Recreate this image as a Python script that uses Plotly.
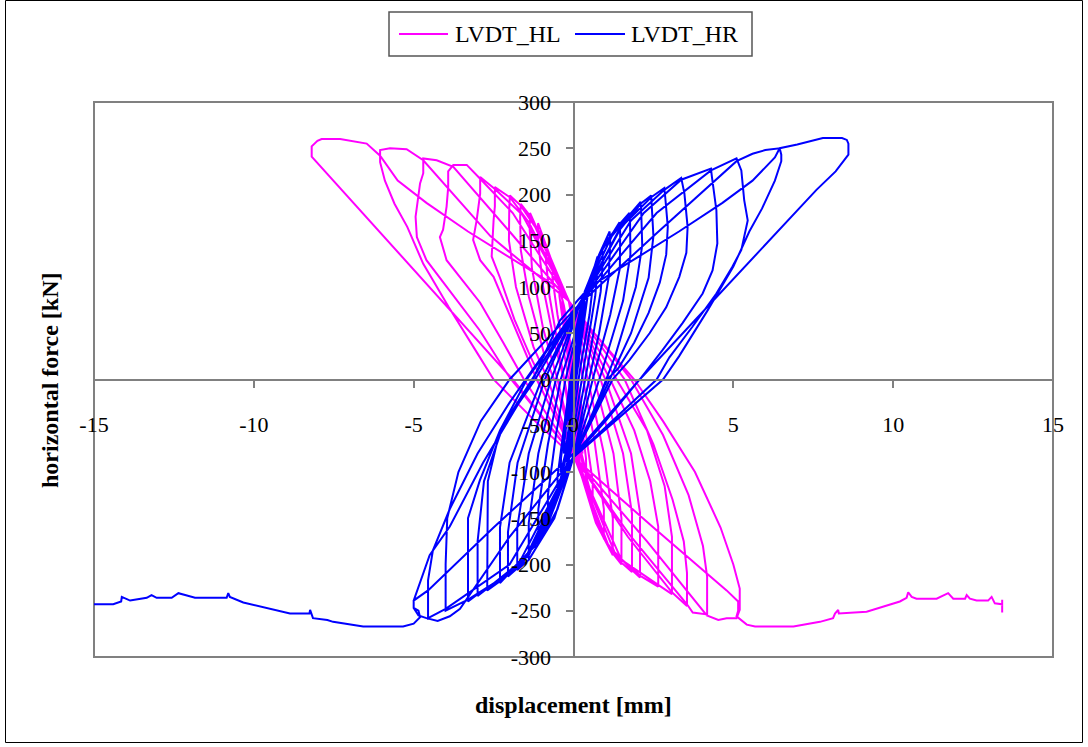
import plotly.graph_objects as go

# LVDT_HR (right transducer): displacement [mm] and horizontal force [kN], in test order
hr_disp = [
    0, 0.1, 0.2, 0.19, 0.05, -0.1, -0.17, -0.16, -0.02,
    0.15, 0.3, 0.35, 0.34, 0.15, -0.05, -0.2, -0.3, -0.29, -0.1,
    0.1, 0.3, 0.45, 0.44, 0.2, -0.05, -0.25, -0.4, -0.39, -0.15,
    0.1, 0.3, 0.45, 0.6, 0.61, 0.5, 0.2, 0.0, -0.2, -0.4, -0.5, -0.5, -0.3, -0.1,
    0.15, 0.35, 0.6, 0.75, 0.76, 0.68, 0.4, 0.05, -0.2, -0.5, -0.8, -0.8, -0.55, -0.25,
    0.1, 0.35, 0.7, 0.9, 0.92, 0.85, 0.55, 0.1, -0.3, -0.8, -1.1, -1.1, -0.8, -0.4,
    0.05, 0.3, 0.8, 1.13, 1.15, 1.1, 0.8, 0.3, 0.0, -0.5, -1.1, -1.4, -1.4, -1.1, -0.55,
    0.2, 0.9, 1.44, 1.46, 1.45, 1.15, 0.6, 0.0, -0.6, -1.4, -1.76, -1.76, -1.4, -0.7,
    0.18, 1.0, 1.44, 1.75, 1.77, 1.78, 1.55, 0.9, 0.02, -0.9, -1.76, -2.05, -2.05, -1.75, -0.9,
    0.22, 1.2, 1.75, 2.1, 2.12, 2.15, 1.95, 1.3, 0.8, 0.0, -1.1, -2.05, -2.3, -2.3, -2.0, -1.0,
    0.2, 1.4, 2.1, 2.43, 2.45, 2.5, 2.35, 1.8, 1.0, -0.02, -1.2, -2.3, -2.7, -2.7, -2.68, -2.3, -1.2,
    0.2, 1.5, 2.43, 2.84, 2.87, 2.95, 2.9, 2.7, 2.35, 1.9, 1.4, 1.05, 0.0, -1.4, -2.7, -3.0, -3.0, -2.8, -2.2, -1.3,
    0.2, 1.8, 2.84, 3.37, 3.47, 3.57, 3.53, 3.31, 2.9, 2.38, 1.75, 1.22, 0.0, -1.6, -3.0, -3.3, -3.3, -2.93, -2.3, -1.46,
    0.2, 2.2, 3.37, 4.3, 4.33, 4.47, 4.5, 4.35, 4.04, 3.41, 2.79, 2.07, 1.0, 0.0, -1.8, -3.3, -4.0, -4.0, -3.95, -3.6, -2.9, -2.0,
    0.2, 2.6, 4.3, 5.1, 5.25, 5.34, 5.45, 5.25, 4.97, 4.47, 3.72, 3.0, 2.6, 1.2, 0.0, -2.0, -4.0, -4.55, -4.55, -4.4, -3.87, -3.0, -2.0, -1.5,
    0.2, 2.6, 5.1, 5.6, 6.0, 6.45, 6.5, 6.5, 6.3, 5.9, 5.5, 5.0, 4.2, 3.3, 2.8, 1.3, 0.0, -2.0, -3.55, -3.87, -4.25, -4.6, -4.85, -5.0, -5.0, -4.5, -3.87, -2.83, -1.27,
    -0.42, 0.5, 2.0, 3.3, 4.66, 5.6, 6.3, 6.45, 7.0, 7.8, 8.4, 8.55, 8.6, 8.6, 8.2, 7.6, 2.07, 0.3, -0.3, -2.5, -4.55, -5.0, -5.0, -4.85, -4.8, -5.0,
    -5.33, -6.58, -7.52, -7.7, -8.15, -8.24, -8.26, -8.87, -10.33, -10.75, -10.8, -10.85, -11.06, -11.84, -12.15, -12.36, -12.57, -13.04,
    -13.2, -13.35, -13.87, -14.13, -14.15, -14.4, -15.0,
]
hr_force = [
    0, 30, 55, 45, 5, -30, -45, -35, 0,
    40, 75, 85, 75, 25, -25, -65, -80, -68, -15,
    35, 80, 100, 90, 30, -35, -80, -100, -85, -20,
    40, 80, 100, 111, 103, 70, 10, -40, -80, -105, -120, -105, -50, 0,
    50, 90, 115, 133, 122, 90, 30, -45, -90, -125, -150, -125, -60, 0,
    50, 95, 125, 140, 128, 95, 35, -50, -110, -155, -175, -140, -70, 0,
    50, 90, 135, 160, 148, 110, 50, -30, -84, -140, -178, -195, -155, -80, 0,
    82, 140, 170, 158, 120, 70, 0, -84, -150, -195, -206, -160, -80, 0,
    80, 148, 168, 180, 168, 135, 85, 10, -82, -165, -204, -213, -165, -90, 0,
    84, 155, 178, 192, 180, 145, 100, 25, -20, -86, -175, -211, -220, -160, -90, 0,
    82, 160, 190, 199, 188, 155, 110, 50, -10, -84, -180, -218, -228, -180, -110, -55, 0,
    82, 165, 197, 207, 197, 165, 135, 105, 72, 40, 12, 0, -84, -190, -226, -234, -175, -110, -50, 0,
    82, 172, 205, 218, 201, 165, 137, 111, 78, 50, 21, 0, -84, -200, -232, -240, -150, -109, -55, 0,
    82, 180, 216, 228, 219, 183, 147, 118, 93, 61, 32, 0, -45, -84, -205, -238, -250, -200, -150, -100, -45, 0,
    82, 180, 226, 239, 226, 194, 172, 140, 122, 93, 57, 24, 0, -45, -84, -200, -248, -258, -217, -185, -140, -80, -25, 0,
    82, 158, 236, 244, 248, 250, 243, 236, 215, 185, 160, 122, 75, 25, 0, -45, -84, -170, -248, -256, -261, -258, -255, -247, -239, -190, -159, -90, 0,
    64, 100, 132, 160, 191, 215, 240, 250, 254, 261, 261, 259, 255, 243, 225, 205, 0, -70, -90, -160, -228, -239, -247, -250, -257, -264,
    -267, -267, -262, -260, -258, -249, -253, -253, -241, -235, -231, -236, -236, -236, -233, -231, -236, -236,
    -233, -236, -239, -235, -240, -243, -243,
]

# LVDT_HL (left transducer): displacement [mm] and horizontal force [kN], in test order
hl_disp = [
    0, -0.1, -0.2, -0.19, -0.05, 0.08, 0.15, 0.14, 0.02,
    -0.15, -0.3, -0.35, -0.34, -0.15, 0.05, 0.2, 0.28, 0.27, 0.1,
    -0.1, -0.3, -0.45, -0.44, -0.2, 0.05, 0.25, 0.4, 0.39, 0.15,
    -0.1, -0.3, -0.45, -0.65, -0.66, -0.5, -0.2, 0.0, 0.2, 0.45, 0.6, 0.6, 0.35, 0.1,
    -0.15, -0.4, -0.65, -0.85, -0.86, -0.75, -0.45, -0.05, 0.2, 0.55, 0.95, 0.95, 0.65, 0.3,
    -0.15, -0.7, -1.11, -1.11, -0.95, -0.6, -0.3, 0.1, 0.7, 1.23, 1.23, 0.95, 0.45,
    -0.15, -0.9, -1.36, -1.37, -1.3, -0.95, -0.5, 0.1, 0.85, 1.23, 1.5, 1.5, 1.25, 0.65,
    -0.13, -1.0, -1.36, -1.65, -1.67, -1.65, -1.4, -0.9, -0.6, 0.12, 0.95, 1.5, 1.83, 1.83, 1.55, 0.85,
    -0.17, -1.2, -1.65, -1.99, -2.01, -2.02, -1.8, -1.25, -0.8, 0.08, 1.1, 1.83, 2.08, 2.08, 1.8, 1.0,
    -0.15, -1.4, -1.99, -2.46, -2.46, -2.5, -2.56, -2.3, -1.85, -1.35, -1.0, 0.1, 1.3, 2.08, 2.65, 2.65, 2.4, 1.9, 1.15,
    -0.15, -1.6, -2.46, -2.92, -2.92, -3.03, -3.14, -2.92, -2.5, -2.0, -1.5, -1.15, 0.1, 1.5, 2.65, 3.08, 3.08, 2.85, 2.3, 1.35,
    -0.15, -1.9, -2.92, -3.34, -3.76, -3.92, -3.92, -3.97, -4.08, -4.18, -3.97, -3.55, -2.92, -2.2, -1.55, 0.1, 1.7, 3.08, 3.55, 3.55, 3.45, 3.1, 2.5, 1.6,
    -0.15, -2.0, -3.76, -4.28, -4.7, -4.7, -4.8, -4.94, -4.9, -4.6, -3.97, -2.93, -2.09, -1.95, 0.1, 1.8, 3.55, 3.73, 4.18, 4.18, 4.05, 3.6, 2.8, 1.8,
    -0.15, -2.6, -4.7, -5.22, -5.74, -6.05, -6.05, -5.9, -5.6, -5.2, -4.7, -3.9, -3.0, -2.5, -1.2, 0.1, 2.3, 4.17, 4.53, 4.79, 5.1, 5.2, 5.2, 5.0, 4.6, 3.8, 2.8, 1.9,
    0.4, -0.5, -2.0, -3.3, -4.6, -5.5, -6.05, -6.47, -7.3, -7.88, -8.01, -8.09, -8.19, -8.19, -1.9, 0.1, 2.5, 4.79, 5.15, 5.15, 5.1,
    5.42, 5.68, 6.88, 7.71, 8.12, 8.18, 8.28, 8.3, 9.17, 10.21, 10.42, 10.47, 10.58, 10.73, 11.36, 11.5, 11.72, 11.88,
    12.25, 12.3, 12.4, 12.61, 12.97, 13.08, 13.18, 13.41, 13.41, 13.41,
]
hl_force = [
    0, 30, 55, 45, 5, -30, -45, -35, 0,
    40, 75, 85, 75, 25, -25, -65, -80, -68, -15,
    35, 80, 100, 90, 30, -35, -80, -100, -85, -20,
    40, 80, 100, 120, 110, 70, 10, -40, -80, -110, -130, -110, -50, 0,
    50, 95, 120, 140, 128, 90, 30, -45, -90, -135, -170, -140, -65, 0,
    85, 130, 169, 150, 100, 40, 0, -87, -155, -190, -150, -80, 0,
    85, 145, 180, 162, 120, 55, 0, -87, -165, -188, -200, -150, -80, 0,
    83, 155, 177, 190, 175, 140, 90, 25, 0, -85, -172, -198, -208, -145, -80, 0,
    87, 165, 188, 199, 185, 150, 100, 35, 0, -89, -180, -206, -214, -144, -80, 0,
    85, 170, 197, 208, 187, 172, 133, 110, 65, 25, 0, -87, -188, -212, -224, -159, -110, -55, 0,
    85, 178, 206, 219, 201, 172, 151, 129, 111, 70, 30, 0, -87, -195, -222, -232, -170, -115, -55, 0,
    85, 180, 217, 232, 232, 225, 208, 187, 162, 154, 129, 111, 83, 40, 0, -87, -170, -230, -245, -209, -175, -130, -70, 0,
    85, 160, 230, 237, 239, 223, 212, 176, 154, 129, 100, 53, 7, 0, -87, -170, -243, -252, -254, -213, -180, -125, -60, 0,
    85, 155, 237, 249, 250, 248, 235, 215, 190, 165, 125, 78, 28, 0, -45, -87, -175, -255, -260, -258, -258, -249, -226, -200, -160, -100, -45, 0,
    60, 100, 132, 160, 191, 215, 242, 255, 260, 260, 258, 255, 252, 241, 0, -87, -160, -228, -240, -250, -256,
    -265, -267, -267, -262, -258, -253, -249, -253, -251, -240, -236, -230, -235, -237, -237, -235, -231, -237,
    -237, -233, -237, -239, -239, -235, -242, -243, -238, -252,
]

assert len(hr_disp) == len(hr_force)
assert len(hl_disp) == len(hl_force)

x_tick_vals = [-15, -10, -5, 0, 5, 10, 15]
x_tick_text = ["-15", "-10", "-5", "0", "5", "10", "15"]
y_tick_vals = [300, 250, 200, 150, 100, 50, 0, -50, -100, -150, -200, -250, -300]
y_tick_text = ["300", "250", "200", "150", "100", "50", "0", "-50", "-100", "-150", "-200", "-250", "-300"]

series_names = ["LVDT_HL", "LVDT_HR"]
series_colors = ["#FF00FF", "#0000FF"]

FONT = "Liberation Serif"
W, H = 1088, 747
ML, MR, MT, MB = 94, 35, 102, 90
PW, PH = W - ML - MR, H - MT - MB


def px_x(px):
    return (px - ML) / PW


def px_y(py):
    return (H - MB - py) / PH


fig = go.Figure()
fig.add_trace(go.Scatter(x=hl_disp, y=hl_force, mode="lines", name=series_names[0],
                         line=dict(color=series_colors[0], width=2), showlegend=False))
fig.add_trace(go.Scatter(x=hr_disp, y=hr_force, mode="lines", name=series_names[1],
                         line=dict(color=series_colors[1], width=2), showlegend=False))

axis_common = dict(
    showgrid=False, zeroline=False, showline=True, linecolor="#808080", linewidth=2,
    ticks="outside", ticklen=7, tickwidth=2, tickcolor="#808080",
    tickfont=dict(family=FONT, size=22, color="black"), anchor="free", position=0.5,
)
fig.update_xaxes(range=[-15, 15], tickvals=x_tick_vals, ticktext=x_tick_text,
                 ticklabelstandoff=18, **axis_common)
fig.update_yaxes(range=[-300, 300], tickvals=y_tick_vals, ticktext=y_tick_text,
                 ticklabelstandoff=10, **axis_common)

shapes = [
    # plot area frame
    dict(type="rect", xref="paper", yref="paper", x0=0, x1=1, y0=0, y1=1,
         line=dict(color="#808080", width=2), layer="below"),
    # chart frame
    dict(type="rect", xref="paper", yref="paper", x0=px_x(5.5), x1=px_x(1082.5),
         y0=px_y(742.5), y1=px_y(0.5), line=dict(color="black", width=1), layer="below"),
    # legend box
    dict(type="rect", xref="paper", yref="paper", x0=px_x(389), x1=px_x(752),
         y0=px_y(56), y1=px_y(12), line=dict(color="#555555", width=1.5)),
    # legend keys
    dict(type="line", xref="paper", yref="paper", x0=px_x(399), x1=px_x(448),
         y0=px_y(34), y1=px_y(34), line=dict(color=series_colors[0], width=2)),
    dict(type="line", xref="paper", yref="paper", x0=px_x(575), x1=px_x(625),
         y0=px_y(34), y1=px_y(34), line=dict(color=series_colors[1], width=2)),
]

annotations = [
    dict(text=series_names[0], xref="paper", yref="paper", x=px_x(453), y=px_y(34),
         xanchor="left", yanchor="middle", showarrow=False,
         font=dict(family=FONT, size=24, color="black")),
    dict(text=series_names[1], xref="paper", yref="paper", x=px_x(629), y=px_y(34),
         xanchor="left", yanchor="middle", showarrow=False,
         font=dict(family=FONT, size=24, color="black")),
    dict(text="<b>displacement [mm]</b>", xref="paper", yref="paper", x=px_x(573), y=px_y(705),
         xanchor="center", yanchor="middle", showarrow=False,
         font=dict(family=FONT, size=24, color="black")),
    dict(text="<b>horizontal force [kN]</b>", xref="paper", yref="paper", x=px_x(50), y=px_y(380),
         xanchor="center", yanchor="middle", showarrow=False, textangle=-90,
         font=dict(family=FONT, size=24, color="black")),
]

fig.update_layout(
    width=W, height=H, autosize=False,
    margin=dict(l=ML, r=MR, t=MT, b=MB, pad=0),
    paper_bgcolor="white", plot_bgcolor="white",
    showlegend=False, shapes=shapes, annotations=annotations,
    font=dict(family=FONT, color="black"),
)

fig.write_html("out.html")
